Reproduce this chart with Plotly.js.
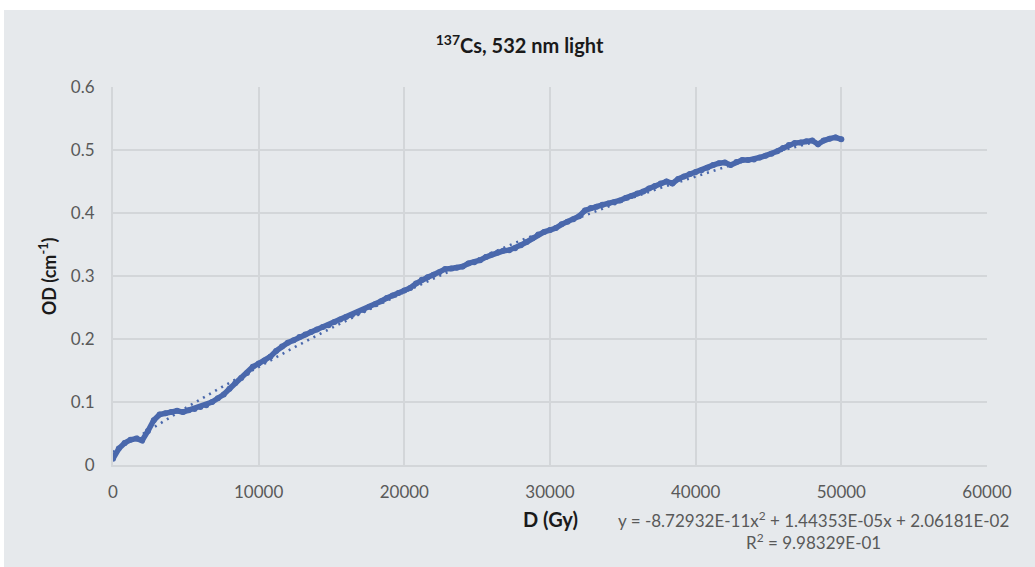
<!DOCTYPE html>
<html>
<head>
<meta charset="utf-8">
<script src="https://cdn.plot.ly/plotly-3.0.1.min.js"></script>
<style>
  html, body { margin: 0; padding: 0; background: #ffffff; }
  #chart { position: absolute; left: 4px; top: 10px; width: 1031px; height: 557px; }
</style>
</head>
<body>
<div id="chart"></div>
<script>
// Measured dose (Gy)
const doseGy = [0,400,800,1200,1600,2000,2400,2800,3200,3600,4000,4400,4800,5200,5600,6000,6400,6800,7200,7600,
  8000,8400,8800,9200,9600,10000,10400,10800,11200,11600,12000,12400,12800,13200,13600,14000,14400,14800,15200,15600,
  16000,16400,16800,17200,17600,18000,18400,18800,19200,19600,20000,20400,20800,21200,21600,22000,22400,22800,23200,23600,
  24000,24400,24800,25200,25600,26000,26400,26800,27200,27600,28000,28400,28800,29200,29600,30000,30400,30800,31200,31600,
  32000,32400,32800,33200,33600,34000,34400,34800,35200,35600,36000,36400,36800,37200,37600,38000,38400,38800,39200,39600,
  40000,40400,40800,41200,41600,42000,42400,42800,43200,43600,44000,44400,44800,45200,45600,46000,46400,46800,47200,47600,
  48000,48400,48800,49200,49600,50000];
// Measured optical density (cm^-1)
const odMeasured = [0.010,0.026,0.035,0.040,0.042,0.039,0.054,0.071,0.080,0.082,0.084,0.086,0.084,0.087,0.089,0.092,0.095,0.100,0.106,0.112,
  0.121,0.130,0.138,0.146,0.156,0.161,0.166,0.172,0.181,0.188,0.194,0.198,0.203,0.207,0.211,0.215,0.219,0.222,0.227,0.231,
  0.235,0.238,0.242,0.246,0.251,0.255,0.260,0.265,0.269,0.273,0.277,0.281,0.288,0.294,0.298,0.302,0.306,0.311,0.312,0.313,
  0.315,0.320,0.322,0.325,0.330,0.334,0.337,0.340,0.341,0.344,0.349,0.354,0.360,0.366,0.370,0.373,0.376,0.382,0.386,0.390,
  0.395,0.404,0.408,0.410,0.413,0.415,0.417,0.420,0.424,0.427,0.431,0.434,0.439,0.443,0.447,0.450,0.447,0.454,0.458,0.462,
  0.465,0.468,0.472,0.476,0.479,0.480,0.476,0.481,0.484,0.484,0.485,0.488,0.491,0.494,0.498,0.503,0.508,0.511,0.512,0.514,
  0.515,0.509,0.515,0.518,0.520,0.517];
// Polynomial trendline values (from the fit shown on the chart)
const trendDose = [0,2500,5000,7500,10000,12500,15000,17500,20000,22500,25000,27500,30000,32500,35000,37500,40000,42500,45000,47500,50000];
const trendOD = [0.0206,0.0562,0.0906,0.1240,0.1562,0.1874,0.2175,0.2465,0.2744,0.3012,0.3269,0.3516,0.3751,0.3976,0.4189,0.4392,0.4584,0.4765,0.4934,0.5093,0.5242];
// Axis ticks
const xTicks = [0,10000,20000,30000,40000,50000,60000];
const yTicks = [0,0.1,0.2,0.3,0.4,0.5,0.6];
// Text
const chartTitle = "<b><sup>137</sup>Cs, 532 nm light</b>";
const xTitle = "<b>D (Gy)</b>";
const yTitle = "<b>OD (cm<sup>-1</sup>)</b>";
const fitText = "y = -8.72932E-11x<sup>2</sup> + 1.44353E-05x + 2.06181E-02<br>R<sup>2</sup> = 9.98329E-01";

const blue = "#4a68ac";
const grid = "#d3d6d9";
const bg = "#e6e9ec";

const traces = [
  {
    x: trendDose, y: trendOD, type: "scatter", mode: "lines",
    line: { color: blue, width: 2.6, dash: "2px,5px" },
    hoverinfo: "skip", showlegend: false
  },
  {
    x: doseGy, y: odMeasured, type: "scatter", mode: "lines+markers",
    line: { color: blue, width: 5.5 },
    marker: { color: blue, size: 6 },
    showlegend: false
  }
];

const layout = {
  width: 1031, height: 557,
  paper_bgcolor: bg, plot_bgcolor: bg,
  margin: { l: 109, r: 48, t: 77, b: 102 },
  font: { family: "Lato, 'Open Sans', sans-serif", color: "#595959", size: 17 },
  title: { text: chartTitle, x: 0.5, xanchor: "center", y: 0.935, yanchor: "middle",
           font: { family: "Lato, sans-serif", size: 20, color: "#1a1a1a" } },
  xaxis: {
    range: [0, 60000], tickvals: xTicks, ticktext: xTicks.map(String),
    showgrid: true, gridcolor: grid, gridwidth: 2,
    showline: true, linecolor: grid, linewidth: 2, mirror: false,
    zeroline: false, ticks: "", ticklabelstandoff: 11,
    tickfont: { size: 17, color: "#595959" }
  },
  yaxis: {
    range: [0, 0.6], tickvals: yTicks, ticktext: yTicks.map(String),
    showgrid: true, gridcolor: grid, gridwidth: 2,
    showline: true, linecolor: grid, linewidth: 2,
    zeroline: false, ticks: "", ticklabelstandoff: 13,
    tickfont: { size: 17, color: "#595959" }
  },
  annotations: [
    { text: xTitle, xref: "paper", yref: "paper", x: 0.5, y: -0.142, xanchor: "center", yanchor: "middle",
      showarrow: false, font: { family: "Lato, sans-serif", size: 20, color: "#1a1a1a" } },
    { text: yTitle, xref: "paper", yref: "paper", x: -0.074, y: 0.5, xanchor: "center", yanchor: "middle",
      textangle: -90, showarrow: false, font: { family: "Lato, sans-serif", size: 18, color: "#1a1a1a" } },
    { text: fitText, xref: "paper", yref: "paper", x: 0.802, y: -0.172, xanchor: "center", yanchor: "middle",
      align: "center", showarrow: false, font: { family: "Lato, sans-serif", size: 17, color: "#595959" } }
  ]
};

Plotly.newPlot("chart", traces, layout, { displayModeBar: false, staticPlot: true });
</script>
</body>
</html>
